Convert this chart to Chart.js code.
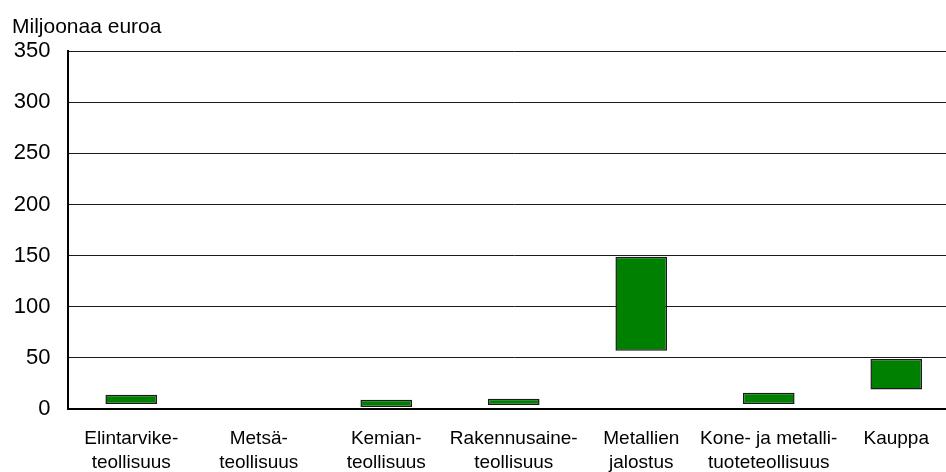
<!DOCTYPE html>
<html>
<head>
<meta charset="utf-8">
<script src="https://cdn.jsdelivr.net/npm/chart.js@4/dist/chart.umd.min.js"></script>
<style>
  html, body { margin: 0; padding: 0; background: #fff; overflow: hidden; }
  #wrap { width: 960px; height: 472px; }
</style>
</head>
<body>
<div id="wrap"><canvas id="chartRange"></canvas></div>
<script>
const categories = [
  ['Elintarvike-', 'teollisuus'],
  ['Metsä-', 'teollisuus'],
  ['Kemian-', 'teollisuus'],
  ['Rakennusaine-', 'teollisuus'],
  ['Metallien', 'jalostus'],
  ['Kone- ja metalli-', 'tuoteteollisuus'],
  ['Kauppa']
];
const lowValues = [5, null, 2, 4, 57, 5, 19];
const highValues = [14, null, 9, 10, 149, 16, 49];
const yTicks = [0, 50, 100, 150, 200, 250, 300, 350];

const ranges = lowValues.map((lo, i) => (lo === null ? null : [lo, highValues[i]]));

Chart.defaults.font.family = '"Liberation Sans", Arial, sans-serif';
Chart.defaults.color = '#000';

const ctx = document.getElementById('chartRange');

new Chart(ctx, {
  type: 'bar',
  data: {
    labels: categories,
    datasets: [{
      label: 'Miljoonaa euroa',
      data: ranges,
      backgroundColor: '#008000',
      borderColor: '#1a1a1a',
      borderWidth: 1.5,
      borderSkipped: false,
      barPercentage: 0.405,
      categoryPercentage: 1
    }]
  },
  options: {
    responsive: true,
    maintainAspectRatio: false,
    animation: false,
    layout: { padding: { left: 12, right: 0, top: 0, bottom: 0 } },
    plugins: {
      legend: { display: false },
      tooltip: { enabled: false },
      title: {
        display: true,
        text: 'Miljoonaa euroa',
        align: 'start',
        color: '#000',
        font: { size: 21, weight: 'normal' },
        padding: { top: 15, bottom: 11 }
      }
    },
    scales: {
      x: {
        grid: { display: false, drawTicks: false },
        border: { color: '#000', width: 2 },
        ticks: {
          color: '#000',
          font: { size: 19, lineHeight: 1.3 },
          padding: 17,
          maxRotation: 0,
          autoSkip: false
        },
        afterFit: s => { s.height = 63; }
      },
      y: {
        min: 0,
        max: 350,
        afterBuildTicks: s => { s.ticks = yTicks.map(v => ({ value: v })); },
        grid: { color: '#1a1a1a', lineWidth: 1, drawTicks: false },
        border: { color: '#000', width: 2 },
        ticks: {
          color: '#000',
          font: { size: 22 },
          padding: 17
        },
        afterFit: s => { s.width = 55.5; }
      }
    }
  }
});
</script>
</body>
</html>
